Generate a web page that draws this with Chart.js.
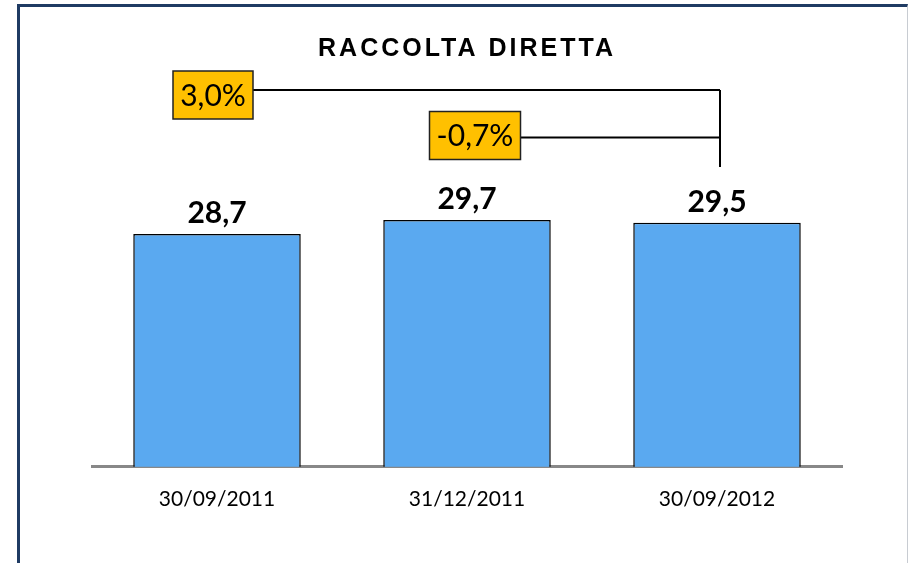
<!DOCTYPE html>
<html>
<head>
<meta charset="utf-8">
<script src="https://cdn.jsdelivr.net/npm/chart.js@4/dist/chart.umd.min.js"></script>
<style>
  html, body { margin: 0; padding: 0; background: #fff; }
  #wrap { position: relative; width: 911px; height: 563px; overflow: hidden; }
  #frame {
    position: absolute; left: 17px; top: 4px; width: 891px; height: 620px;
    border-left: 3px solid #1f3b63; border-top: 3px solid #1f3b63;
    border-right: 1px solid #c8ccd2; box-sizing: border-box;
  }
  canvas { position: absolute; left: 0; top: 0; }
</style>
</head>
<body>
<div id="wrap">
  <div id="frame"></div>
  <canvas id="chart" width="911" height="563"></canvas>
</div>
<script>
const title = 'RACCOLTA DIRETTA';
const dates = ['30/09/2011', '31/12/2011', '30/09/2012'];
const raccolta = [28.7, 29.7, 29.5];
const variazioni = ['3,0%', '-0,7%'];   // vs 30/09/2012
const fromIndex = [0, 1];
const toIndex = 2;

const fmt = v => v.toFixed(1).replace('.', ',');

const overlay = {
  id: 'overlay',
  afterDatasetsDraw(chart) {
    const { ctx, scales: { x, y } } = chart;
    ctx.save();

    // titolo
    ctx.fillStyle = '#000';
    ctx.font = 'bold 25px "Liberation Sans", Arial, sans-serif';
    ctx.letterSpacing = '3px';
    ctx.textAlign = 'center';
    ctx.textBaseline = 'alphabetic';
    ctx.fillText(title, 467, 56);
    ctx.letterSpacing = '0px';

    // etichette valori
    ctx.font = 'bold 30px Lato, sans-serif';
    raccolta.forEach((v, i) => {
      ctx.fillText(fmt(v), x.getPixelForValue(i), y.getPixelForValue(v) - 11);
    });

    // variazioni percentuali
    const rows = [95, 135.5];
    const boxW = [80, 91];
    const shift = [-4, 8];
    const xEnd = x.getPixelForValue(toIndex) + 3;
    ctx.lineWidth = 2;
    ctx.strokeStyle = '#000';
    ctx.beginPath();
    ctx.moveTo(xEnd, rows[0] - 5);
    ctx.lineTo(xEnd, 167);
    ctx.stroke();
    variazioni.forEach((txt, k) => {
      const cx = x.getPixelForValue(fromIndex[k]) + shift[k];
      const cy = rows[k];
      const w = boxW[k], h = 48;
      ctx.lineWidth = 2;
      ctx.beginPath();
      ctx.moveTo(cx + w / 2, cy + (k === 0 ? -5 : 2));
      ctx.lineTo(xEnd, cy + (k === 0 ? -5 : 2));
      ctx.stroke();
      ctx.fillStyle = '#ffc000';
      ctx.fillRect(cx - w / 2, cy - h / 2, w, h);
      ctx.lineWidth = 1.5;
      ctx.strokeStyle = '#222';
      ctx.strokeRect(cx - w / 2, cy - h / 2, w, h);
      ctx.strokeStyle = '#000';
      ctx.fillStyle = '#000';
      ctx.font = '30px Lato, sans-serif';
      ctx.textBaseline = 'middle';
      ctx.fillText(txt, cx, cy + 1);
    });
    ctx.restore();
  }
};

new Chart(document.getElementById('chart'), {
  type: 'bar',
  data: {
    labels: dates,
    datasets: [{
      data: raccolta,
      backgroundColor: '#5aa9f0',
      borderColor: '#000',
      borderWidth: 1.5,
      barPercentage: 0.67,
      categoryPercentage: 1
    }]
  },
  options: {
    responsive: false,
    animation: false,
    layout: { padding: { left: 92, right: 69, top: 60, bottom: 31 } },
    plugins: { legend: { display: false }, tooltip: { enabled: false } },
    scales: {
      x: {
        grid: { display: false, drawTicks: false },
        border: { display: true, color: '#888', width: 3 },
        ticks: { color: '#000', padding: 20, font: { family: 'Lato, sans-serif', size: 21 } }
      },
      y: {
        display: false,
        min: 12.1,
        max: 41.1
      }
    }
  },
  plugins: [overlay]
});
</script>
</body>
</html>
